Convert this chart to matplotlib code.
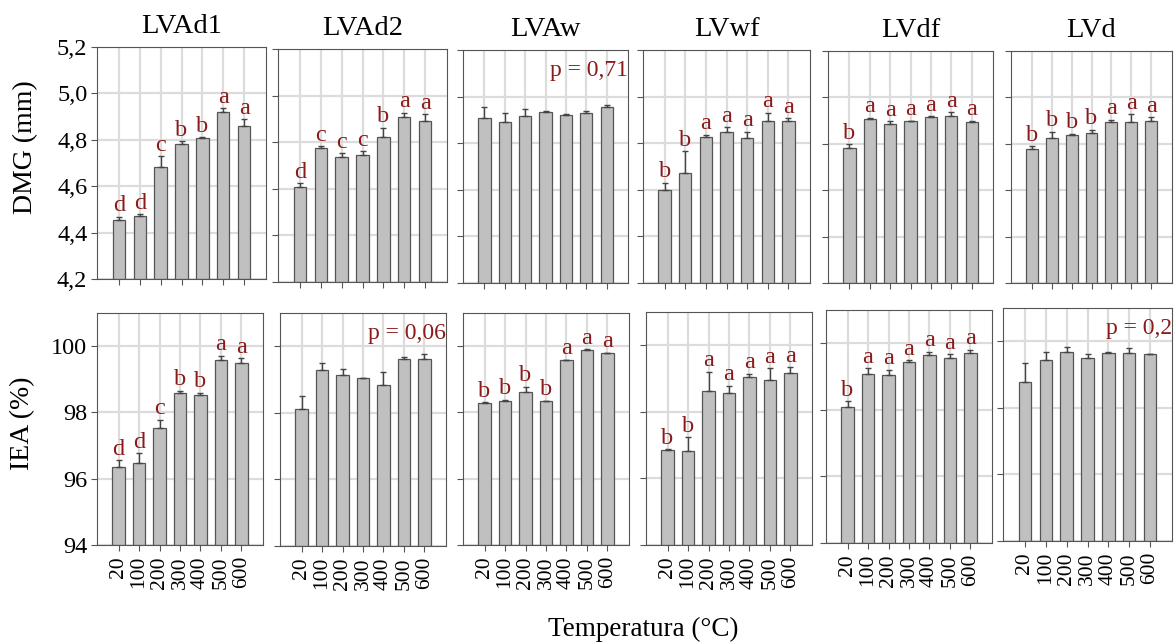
import matplotlib
matplotlib.use('Agg')
import matplotlib.pyplot as plt
import numpy as np

plt.rcParams['font.family'] = ['Liberation Serif', 'DejaVu Serif']

# data
temps = ['20', '100', '200', '300', '400', '500', '600']
soils = ['LVAd1', 'LVAd2', 'LVAw', 'LVwf', 'LVdf', 'LVd']

dmg_mean = [
    [4.455, 4.473, 4.684, 4.782, 4.806, 4.919, 4.861],
    [4.609, 4.777, 4.737, 4.746, 4.823, 4.907, 4.893],
    [4.907, 4.889, 4.917, 4.934, 4.921, 4.930, 4.956],
    [4.601, 4.674, 4.827, 4.849, 4.824, 4.894, 4.896],
    [4.784, 4.906, 4.884, 4.897, 4.914, 4.921, 4.894],
    [4.777, 4.823, 4.836, 4.847, 4.894, 4.894, 4.899],
]
dmg_err = [
    [0.014, 0.006, 0.046, 0.013, 0.004, 0.017, 0.029],
    [0.014, 0.006, 0.017, 0.016, 0.039, 0.020, 0.027],
    [0.050, 0.041, 0.029, 0.003, 0.003, 0.009, 0.006],
    [0.029, 0.091, 0.009, 0.020, 0.026, 0.036, 0.011],
    [0.014, 0.006, 0.013, 0.003, 0.004, 0.016, 0.006],
    [0.013, 0.029, 0.007, 0.013, 0.009, 0.034, 0.016],
]
dmg_letters = [
    ['d', 'd', 'c', 'b', 'b', 'a', 'a'],
    ['d', 'c', 'c', 'c', 'b', 'a', 'a'],
    [],
    ['b', 'b', 'a', 'a', 'a', 'a', 'a'],
    ['b', 'a', 'a', 'a', 'a', 'a', 'a'],
    ['b', 'b', 'b', 'b', 'a', 'a', 'a'],
]
dmg_pvalue = [None, None, 'p = 0,71', None, None, None]

iea_mean = [
    [96.35, 96.46, 97.52, 98.59, 98.52, 99.58, 99.48],
    [98.13, 99.28, 99.14, 99.04, 98.83, 99.63, 99.63],
    [98.29, 98.35, 98.63, 98.33, 99.57, 99.88, 99.78],
    [96.86, 96.81, 98.62, 98.56, 99.04, 98.95, 99.17],
    [98.08, 99.08, 99.06, 99.44, 99.65, 99.55, 99.71],
    [98.78, 99.43, 99.68, 99.49, 99.64, 99.64, 99.61],
]
iea_err = [
    [0.20, 0.31, 0.26, 0.07, 0.08, 0.13, 0.16],
    [0.39, 0.22, 0.18, 0.02, 0.41, 0.05, 0.15],
    [0.02, 0.03, 0.15, 0.02, 0.02, 0.02, 0.02],
    [0.02, 0.43, 0.59, 0.23, 0.10, 0.36, 0.18],
    [0.18, 0.17, 0.15, 0.06, 0.10, 0.13, 0.10],
    [0.57, 0.25, 0.15, 0.13, 0.05, 0.15, 0.02],
]
iea_letters = [
    ['d', 'd', 'c', 'b', 'b', 'a', 'a'],
    [],
    ['b', 'b', 'b', 'b', 'a', 'a', 'a'],
    ['b', 'b', 'a', 'a', 'a', 'a', 'a'],
    ['b', 'a', 'a', 'a', 'a', 'a', 'a'],
    [],
]
iea_pvalue = [None, 'p = 0,06', None, None, None, 'p = 0,2']

dmg_ticks = [4.2, 4.4, 4.6, 4.8, 5.0, 5.2]
iea_ticks = [94, 96, 98, 100]

# panel boxes in pixels (left, top, right, bottom), the panels are a bit off-grid
top_boxes = [(97, 47, 266, 279), (278, 49, 447, 282), (463, 50, 628, 283),
             (643, 50, 810, 283), (828, 51, 993, 283), (1011, 51, 1172, 283)]
bottom_boxes = [(97, 313, 263, 545), (280, 313, 446, 546), (463, 313, 629, 545),
                (646, 312, 812, 545), (826, 310, 992, 543), (1003, 308, 1172, 541)]

W, H = 1175, 642
LETTER_COLOR = '#8b1a1a'
EDGE = '#555555'

fig = plt.figure(figsize=(W / 100, H / 100), dpi=100)


def px_axes(box):
    l, t, r, b = box
    return fig.add_axes([l / W, 1 - b / H, (r - l) / W, (b - t) / H])


def draw_panel(ax, means, errs, letters, pvalue, ylim, yticks, fmt):
    x = np.arange(len(temps))
    ax.set_axisbelow(True)
    ax.grid(True, color='#dcdcdc', linewidth=1.6)
    ax.bar(x, np.array(means) - ylim[0], bottom=ylim[0], width=0.6,
           color='#c0c0c0', edgecolor=EDGE, linewidth=0.9, zorder=2)
    ax.errorbar(x, means, yerr=[np.zeros(len(errs)), errs], fmt='none',
                ecolor='#444444', elinewidth=1.0, capsize=2.5, capthick=1.0, zorder=3)
    for xi, m, e, lab in zip(x, means, errs, letters):
        ax.annotate(lab, (xi, m + e), xytext=(0, 0.3), textcoords='offset points',
                    ha='center', va='bottom', color=LETTER_COLOR, fontsize=17.5, zorder=4)
    if pvalue:
        ax.text(0.998, 0.91, pvalue, transform=ax.transAxes, ha='right', va='center',
                color=LETTER_COLOR, fontsize=17, zorder=4)
    ax.set_xlim(-1.05, 7.05)
    ax.set_ylim(*ylim)
    ax.set_xticks(x)
    ax.set_xticklabels(temps, rotation=90)
    ax.set_yticks(yticks)
    ax.set_yticklabels([fmt(v) for v in yticks])
    ax.tick_params(direction='out', length=4, width=0.8, color=EDGE,
                   labelsize=17.5, pad=3)
    ax.tick_params(axis='x', labelsize=15.5, pad=4)
    for sp in ax.spines.values():
        sp.set_color(EDGE)
        sp.set_linewidth(0.8)


for i, soil in enumerate(soils):
    ax = px_axes(top_boxes[i])
    draw_panel(ax, dmg_mean[i], dmg_err[i], dmg_letters[i], dmg_pvalue[i],
               (4.2, 5.2), dmg_ticks, lambda v: f'{v:.1f}'.replace('.', ','))
    ax.set_title(soil, fontsize=20.5, pad=10)
    ax.tick_params(labelbottom=False, labelleft=(i == 0))

    ax = px_axes(bottom_boxes[i])
    draw_panel(ax, iea_mean[i], iea_err[i], iea_letters[i], iea_pvalue[i],
               (94, 101), iea_ticks, lambda v: f'{v:d}')
    ax.tick_params(labelleft=(i == 0))

fig.text(26 / W, 1 - 147 / H, 'DMG (mm)', rotation=90, ha='center', va='center', fontsize=20)
fig.text(23 / W, 1 - 423 / H, 'IEA (%)', rotation=90, ha='center', va='center', fontsize=20)
fig.text(643 / W, 1 - 636 / H, 'Temperatura (°C)', ha='center', va='baseline', fontsize=19.5)

fig.savefig('out.png', dpi=100)
